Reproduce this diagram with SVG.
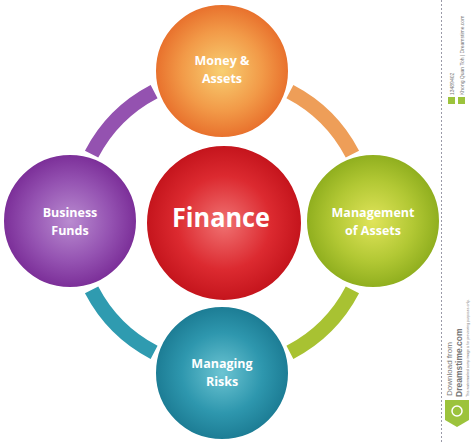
<svg xmlns="http://www.w3.org/2000/svg" width="474" height="443" viewBox="0 0 474 443">
<defs>
<radialGradient id="gOrange" cx="50%" cy="50%" r="50%"><stop offset="0" stop-color="#F8CF72"/><stop offset="0.6" stop-color="#F29A48"/><stop offset="1" stop-color="#E8702C"/></radialGradient>
<radialGradient id="gPurple" cx="50%" cy="50%" r="50%"><stop offset="0" stop-color="#B98BD0"/><stop offset="0.6" stop-color="#9553B2"/><stop offset="1" stop-color="#7B2E98"/></radialGradient>
<radialGradient id="gGreen" cx="50%" cy="50%" r="50%"><stop offset="0" stop-color="#E0E45A"/><stop offset="0.6" stop-color="#B2C834"/><stop offset="1" stop-color="#8FAE1E"/></radialGradient>
<radialGradient id="gBlue" cx="50%" cy="50%" r="50%"><stop offset="0" stop-color="#6CC4D2"/><stop offset="0.6" stop-color="#2E97AE"/><stop offset="1" stop-color="#1C7C94"/></radialGradient>
<radialGradient id="gRed" cx="50%" cy="50%" r="50%"><stop offset="0" stop-color="#F07272"/><stop offset="0.6" stop-color="#DC2A30"/><stop offset="1" stop-color="#C4141C"/></radialGradient>
</defs>
<style>
.arc{fill:none;stroke-width:15;stroke-linecap:butt}
.node{stroke:#ffffff;stroke-width:2}
.lbl{font-family:"Open Sans","Noto Sans","DejaVu Sans",sans-serif;font-weight:bold;fill:#ffffff;text-anchor:middle}
.sm{font-size:12.5px}
.side{font-family:"Liberation Sans","DejaVu Sans",sans-serif;fill:#777777}
</style>
<g id="connectors">
<path class="arc" stroke="#9452B0" d="M91.6,154.1 A147,147 0 0 1 154.1,91.6"/>
<path class="arc" stroke="#EE9E58" d="M289.9,91.6 A147,147 0 0 1 352.4,154.1"/>
<path class="arc" stroke="#A8C232" d="M352.4,289.9 A147,147 0 0 1 289.9,352.4"/>
<path class="arc" stroke="#2F9BB0" d="M154.1,352.4 A147,147 0 0 1 91.6,289.9"/>
</g>
<g id="node-money">
<circle class="node" cx="222" cy="71" r="67" fill="url(#gOrange)"/>
<text class="lbl sm" x="222" y="65">Money &amp;</text>
<text class="lbl sm" x="222" y="83">Assets</text>
</g>
<g id="node-business">
<circle class="node" cx="70" cy="221" r="67" fill="url(#gPurple)"/>
<text class="lbl sm" x="70" y="217">Business</text>
<text class="lbl sm" x="70" y="235">Funds</text>
</g>
<g id="node-management">
<circle class="node" cx="373" cy="221" r="67" fill="url(#gGreen)"/>
<text class="lbl sm" x="373" y="217">Management</text>
<text class="lbl sm" x="373" y="235">of Assets</text>
</g>
<g id="node-risks">
<circle class="node" cx="222" cy="373" r="67" fill="url(#gBlue)"/>
<text class="lbl sm" x="222" y="368">Managing</text>
<text class="lbl sm" x="222" y="386">Risks</text>
</g>
<g id="node-finance">
<circle class="node" cx="224" cy="223" r="78" fill="url(#gRed)"/>
<text class="lbl" x="221" y="227" font-size="26" textLength="98" lengthAdjust="spacingAndGlyphs">Finance</text>
</g>
<g id="sidebar">
<line x1="441.5" y1="0" x2="441.5" y2="443" stroke="#9a9aa8" stroke-width="1" stroke-dasharray="2,2"/>
<text class="side" font-size="5" transform="translate(454,95) rotate(-90)">13489402</text>
<text class="side" font-size="5" transform="translate(464,95) rotate(-90)">Khong Quan Toh | Dreamstime.com</text>
<rect x="448" y="97" width="7" height="7" fill="#9CC33C"/>
<rect x="458" y="97" width="7" height="7" fill="#9CC33C"/>
<text class="side" font-size="8" transform="translate(452,396) rotate(-90)">Download from</text>
<text class="side" font-size="8.5" font-weight="bold" fill="#666666" transform="translate(462,397) rotate(-90)">Dreamstime.com</text>
<text class="side" font-size="3.5" transform="translate(469,397) rotate(-90)">This watermarked comp image is for previewing purposes only.</text>
<path d="M445,400 L469,400 L469,420 L457,427 L445,420 Z" fill="#9CC33C"/>
<circle cx="457" cy="411" r="5" fill="none" stroke="#ffffff" stroke-width="1.5"/>
</g>
</svg>
